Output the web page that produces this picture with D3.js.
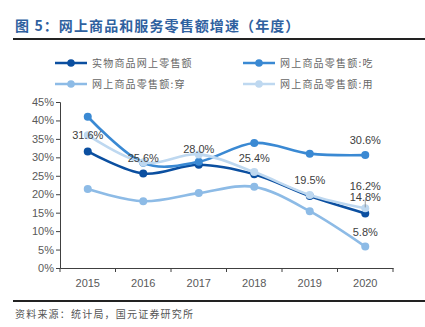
<!DOCTYPE html>
<html>
<head>
<meta charset="utf-8">
<script src="https://cdn.jsdelivr.net/npm/d3@7"></script>
<style>
  body { margin: 0; background: #fff; }
  svg { display: block; }
</style>
</head>
<body>
<svg width="425" height="327"></svg>
<script>
"use strict";

const years = ["2015", "2016", "2017", "2018", "2019", "2020"];
const seriesNames = ["实物商品网上零售额", "网上商品零售额:吃", "网上商品零售额:穿", "网上商品零售额:用"];
const physical = [31.6, 25.6, 28.0, 25.4, 19.5, 14.8];
const food = [41.0, 28.5, 28.8, 33.9, 31.0, 30.6];
const clothing = [21.4, 18.1, 20.3, 22.0, 15.4, 5.8];
const goods = [36.0, 28.6, 30.8, 26.0, 19.8, 16.2];
const yTicks = [0, 5, 10, 15, 20, 25, 30, 35, 40, 45];

const colors = ["#0b4fa0", "#3a89d3", "#8dbbe6", "#bed8f0"];
const cjk = "'Noto Sans CJK SC', sans-serif";
const latin = "'Liberation Sans', Arial, sans-serif";

const svg = d3.select("svg");

// title
svg.append("text")
    .attr("x", 15).attr("y", 31)
    .attr("font-family", cjk)
    .attr("font-size", 14)
    .attr("font-weight", "bold")
    .attr("fill", "#2f619f")
    .attr("letter-spacing", 1.1)
    .text("图 5：网上商品和服务零售额增速（年度）");

svg.append("line")
    .attr("x1", 13).attr("x2", 425)
    .attr("y1", 39).attr("y2", 39)
    .attr("stroke", "#222").attr("stroke-width", 2.2);

svg.append("line")
    .attr("x1", 13).attr("x2", 425)
    .attr("y1", 301).attr("y2", 301)
    .attr("stroke", "#222").attr("stroke-width", 2);

svg.append("text")
    .attr("x", 15).attr("y", 318)
    .attr("font-family", cjk)
    .attr("font-size", 10)
    .attr("fill", "#555")
    .attr("letter-spacing", 1.2)
    .text("资料来源：统计局，国元证券研究所");

// legend
const legendPos = [[55, 63], [243, 63], [55, 84], [243, 84]];
seriesNames.forEach((name, i) => {
    const [lx, ly] = legendPos[i];
    const g = svg.append("g").attr("transform", `translate(${lx},${ly})`);
    g.append("line").attr("x1", 0).attr("x2", 32).attr("y1", 0).attr("y2", 0)
        .attr("stroke", colors[i]).attr("stroke-width", 2.5);
    g.append("circle").attr("cx", 16).attr("cy", 0).attr("r", 3.8).attr("fill", colors[i]);
    g.append("text").attr("x", 37).attr("y", 3.5)
        .attr("font-family", cjk).attr("font-size", 10)
        .attr("fill", "#666")
        .attr("letter-spacing", 1.2)
        .text(name);
});

// scales
const x = d3.scaleBand().domain(years).range([60, 393]).paddingInner(0).paddingOuter(0);
const y = d3.scaleLinear().domain([0, 45]).range([268, 102]);
const cx = d => x(d) + x.bandwidth() / 2;

// axes
const yAxis = svg.append("g").attr("transform", "translate(60,0)")
    .call(d3.axisLeft(y).tickValues(yTicks).tickSize(4).tickFormat(d => d + "%"));
yAxis.select(".domain").attr("stroke", "#404040");
yAxis.selectAll(".tick line").attr("stroke", "#404040");
yAxis.selectAll("text").attr("font-family", latin).attr("font-size", 11)
    .attr("fill", "#595959").attr("x", -6);

const xAxis = svg.append("g").attr("transform", "translate(0,268)")
    .call(d3.axisBottom(x).tickSize(0).tickSizeOuter(0));
xAxis.select(".domain").attr("stroke", "#404040").attr("stroke-width", 1.2);
xAxis.selectAll("text").attr("font-family", latin).attr("font-size", 11)
    .attr("fill", "#595959").attr("dy", "1.45em");
// band boundary ticks
xAxis.selectAll(".bt").data(years.concat(["end"])).enter().append("line")
    .attr("x1", (d, i) => i < years.length ? x(d) : x.range()[1])
    .attr("x2", (d, i) => i < years.length ? x(d) : x.range()[1])
    .attr("y1", 0).attr("y2", 4)
    .attr("stroke", "#404040");

// lines
const allSeries = [physical, food, clothing, goods];
const lineGen = d3.line()
    .x((d, i) => cx(years[i]))
    .y(d => y(d))
    .curve(d3.curveCardinal.tension(0));

allSeries.forEach((vals, s) => {
    svg.append("path").datum(vals)
        .attr("d", lineGen)
        .attr("fill", "none")
        .attr("stroke", colors[s])
        .attr("stroke-width", 2.6);
    svg.selectAll(".dot" + s).data(vals).enter().append("circle")
        .attr("cx", (d, i) => cx(years[i]))
        .attr("cy", d => y(d))
        .attr("r", 4)
        .attr("fill", colors[s]);
});

// data labels
const labels = [];
physical.forEach((v, i) => labels.push({ s: 0, i: i, v: v, dy: -16 }));
labels.push({ s: 1, i: 5, v: food[5], dy: -15 });
labels.push({ s: 2, i: 5, v: clothing[5], dy: -15 });
labels.push({ s: 3, i: 5, v: goods[5], dy: -22 });

svg.append("line")
    .attr("x1", cx("2020")).attr("x2", cx("2020"))
    .attr("y1", y(physical[5]) - 14).attr("y2", y(physical[5]) - 6)
    .attr("stroke", "#888").attr("stroke-width", 0.8);

svg.selectAll(".lbl").data(labels).enter().append("text")
    .attr("x", d => cx(years[d.i]))
    .attr("y", d => y(d.v) + d.dy + 4)
    .attr("text-anchor", "middle")
    .attr("font-family", latin)
    .attr("font-size", 11)
    .attr("fill", "#404040")
    .text(d => d.v.toFixed(1) + "%");
</script>
</body>
</html>
